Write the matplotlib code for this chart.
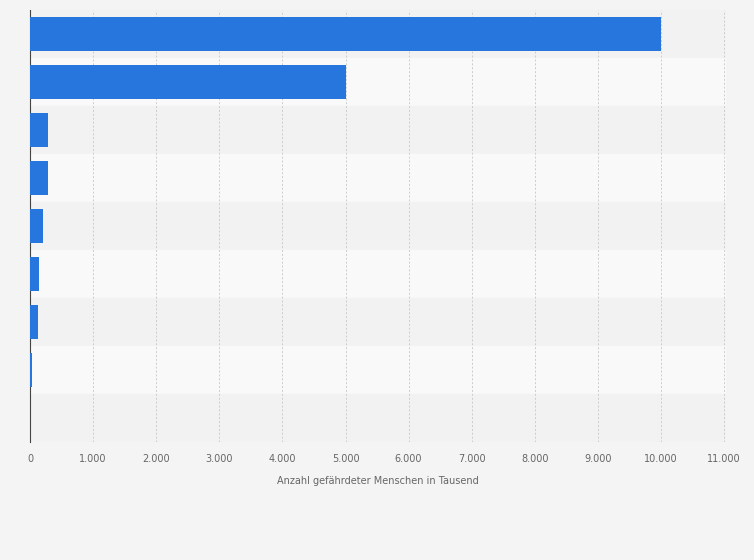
import matplotlib.pyplot as plt
import numpy as np

# values in thousands, top to bottom (category labels not shown in reference)
werte = [10000, 5000, 290, 290, 208, 150, 133, 37, 0]
ticks = list(range(0, 12000, 1000))
tick_labels = ['0', '1.000', '2.000', '3.000', '4.000', '5.000', '6.000',
               '7.000', '8.000', '9.000', '10.000', '11.000']

fig = plt.figure(figsize=(7.54, 5.6), dpi=100)
fig.patch.set_facecolor('#f4f4f4')
ax = fig.add_axes([30/754, 118/560, 696/754, 432/560])
ax.set_facecolor('#f4f4f4')

n = len(werte)
y = np.arange(n)
for i in range(n):
    ax.axhspan(i - 0.5, i + 0.5, color='#f2f2f2' if i % 2 == 0 else '#f9f9f9', zorder=0)

ax.barh(y, werte, height=0.69, color='#2776dd', zorder=3)
ax.set_ylim(n - 0.5, -0.5)
ax.set_xlim(0, 11030)
ax.set_xticks(ticks)
ax.set_xticklabels(tick_labels, fontsize=7, color='#666666')
ax.set_yticks([])
ax.grid(axis='x', color='#cccccc', linestyle=(0, (2, 2)), linewidth=0.7, zorder=1)
for s in ['top', 'right', 'bottom']:
    ax.spines[s].set_visible(False)
ax.spines['left'].set_color('#444444')
ax.tick_params(axis='x', length=0, pad=9)
ax.set_xlabel('Anzahl gefährdeter Menschen in Tausend', fontsize=7, color='#666666', labelpad=8)

fig.savefig('out.png', dpi=100, facecolor=fig.get_facecolor())
